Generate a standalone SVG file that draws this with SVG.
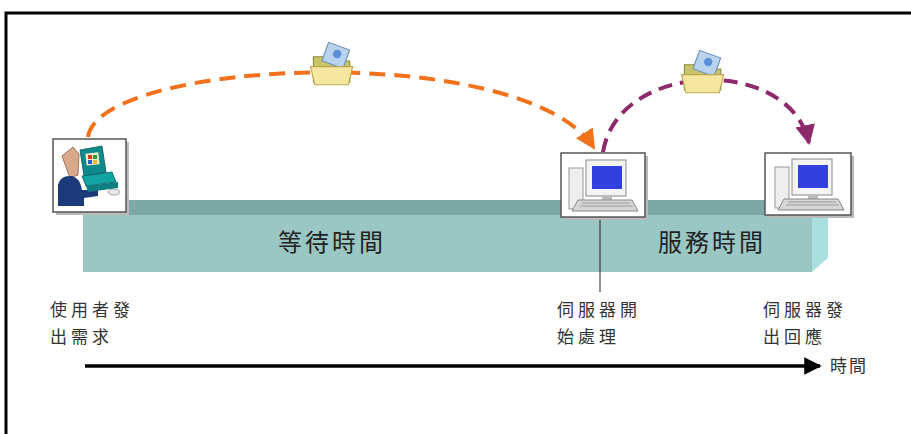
<svg xmlns="http://www.w3.org/2000/svg" width="911" height="434" viewBox="0 0 911 434">
  <style>
    .lbl { font-family: "Noto Sans CJK TC", "Noto Sans CJK SC", sans-serif; font-size: 17px; fill: #333; letter-spacing: 4px; }
    .bar { font-family: "Noto Sans CJK TC", "Noto Sans CJK SC", sans-serif; font-size: 24px; fill: #222; letter-spacing: 3px; }
    .iconbox { fill: #fff; stroke: #555; stroke-width: 1.5; }
    .shadow { fill: #bbb; }
  </style>
  <defs>
    <marker id="headOrange" viewBox="0 0 10 10" refX="9" refY="5" markerWidth="5" markerHeight="5" orient="auto" markerUnits="strokeWidth">
      <path d="M0,0 L10,5 L0,10 Z" fill="#F2711C"/>
    </marker>
    <marker id="headPurple" viewBox="0 0 10 10" refX="9" refY="5" markerWidth="5" markerHeight="5" orient="auto" markerUnits="strokeWidth">
      <path d="M0,0 L10,5 L0,10 Z" fill="#8E2A6B"/>
    </marker>
    <marker id="headBlack" viewBox="0 0 10 10" refX="9" refY="5" markerWidth="6" markerHeight="5" orient="auto" markerUnits="strokeWidth">
      <path d="M0,0 L10,5 L0,10 Z" fill="#000"/>
    </marker>
    <g id="folder">
      <path d="M-14,-8 L-6,-8 L-4,-5 L12,-5 L12,10 L-14,10 Z" fill="#C9C46A" stroke="#8C8A3A" stroke-width="0.8"/>
      <rect x="-6" y="-16" width="16" height="14" fill="#B9D3EE" stroke="#6F8FB8" stroke-width="0.8" transform="rotate(20 2 -9)"/>
      <circle cx="3" cy="-10" r="3" fill="#5B8FD9"/>
      <path d="M-16,-1 L14,-1 L11,12 L-13,12 Z" fill="#F6E7A0" stroke="#B9A650" stroke-width="0.8"/>
    </g>
    <g id="computer">
      <rect x="-31" y="-17" width="14" height="41" fill="#EEE" stroke="#999" stroke-width="1"/>
      <rect x="-14" y="-25" width="40" height="36" fill="#F4F4F4" stroke="#888" stroke-width="1"/>
      <rect x="-8" y="-19" width="30" height="23" fill="#3340E0"/>
      <rect x="2" y="11" width="10" height="4" fill="#bbb"/>
      <path d="M-22,15 L32,15 L38,26 L-28,26 Z" fill="#D6D6D6" stroke="#888" stroke-width="1"/>
      <path d="M-18,18 L30,18 M-20,21 L33,21" stroke="#999" stroke-width="1"/>
    </g>
  </defs>

  <!-- page frame -->
  <rect x="6" y="13" width="920" height="440" fill="#fff" stroke="#000" stroke-width="3"/>

  <!-- time bar (3D box) -->
  <g id="timebar">
    <path d="M83,215 L98,200 L828,200 L812,215 Z" fill="#7DA8A5"/>
    <path d="M812,215 L828,200 L828,258 L812,272 Z" fill="#A9E0DF"/>
    <rect x="83" y="215" width="729" height="57" fill="#9AC6C4"/>
    <text class="bar" x="332" y="251" text-anchor="middle">等待時間</text>
    <text class="bar" x="712" y="251" text-anchor="middle">服務時間</text>
  </g>

  <!-- server start marker line -->
  <line x1="600" y1="217" x2="600" y2="292" stroke="#222" stroke-width="1"/>

  <!-- client node -->
  <g id="client">
    <rect class="shadow" x="56" y="142" width="73" height="73"/>
    <rect class="iconbox" x="53" y="139" width="73" height="73"/>
    <!-- person -->
    <path d="M62,156 L73,147 L79,154 L78,175 L70,178 Z" fill="#D9A98C" stroke="#8A5A40" stroke-width="0.8"/>
    <path d="M58,206 L58,185 Q60,175 72,176 Q80,178 82,190 L98,190 L98,196 L84,198 L84,206 Z" fill="#1C3A7A"/>
    <!-- monitor -->
    <path d="M80,150 L102,146 L106,172 L84,176 Z" fill="#0E8A8C" stroke="#05585A" stroke-width="0.8"/>
    <rect x="86" y="153" width="13" height="12" fill="#F3E9C9" transform="rotate(-6 92 159)"/>
    <rect x="88" y="155" width="4" height="4" fill="#D23A2A"/>
    <rect x="93" y="155" width="4" height="4" fill="#2E9C3C"/>
    <rect x="88" y="160" width="4" height="4" fill="#2A5BC9"/>
    <rect x="93" y="160" width="4" height="4" fill="#E2C12A"/>
    <path d="M82,176 L112,172 L116,182 L86,186 Z" fill="#13A3A3" stroke="#05585A" stroke-width="0.8"/>
    <path d="M86,186 L118,182 L118,188 L88,192 Z" fill="#0D7E80"/>
    <ellipse cx="114" cy="192" rx="6" ry="3" fill="#E6E6E6" stroke="#777" stroke-width="0.6"/>
  </g>

  <!-- server node (start of processing) -->
  <g id="server-start">
    <rect class="shadow" x="564" y="156" width="84" height="64"/>
    <rect class="iconbox" x="561" y="153" width="84" height="64"/>
    <use href="#computer" x="600" y="185"/>
  </g>

  <!-- server node (response) -->
  <g id="server-reply">
    <rect class="shadow" x="768" y="156" width="86" height="62"/>
    <rect class="iconbox" x="765" y="153" width="86" height="62"/>
    <use href="#computer" x="806" y="184"/>
  </g>

  <!-- connectors -->
  <g id="connectors">
    <path d="M88,137 C100,58 525,40 594,148" fill="none" stroke="#F2711C" stroke-width="4" stroke-dasharray="16,9" marker-end="url(#headOrange)"/>
    <path d="M603,152 C618,60 790,55 809,143" fill="none" stroke="#8E2A6B" stroke-width="4" stroke-dasharray="14,8" marker-end="url(#headPurple)"/>
    <line x1="85" y1="366" x2="820" y2="366" stroke="#000" stroke-width="3.5" marker-end="url(#headBlack)"/>
  </g>

  <!-- data folders riding on the arcs -->
  <g id="request-folder"><use href="#folder" transform="translate(333 68) scale(1.4)"/></g>
  <g id="reply-folder"><use href="#folder" transform="translate(704 76) scale(1.4)"/></g>

  <!-- labels -->
  <g id="labels">
    <text class="lbl" x="50" y="316">使用者發</text>
    <text class="lbl" x="50" y="343">出需求</text>
    <text class="lbl" x="557" y="316">伺服器開</text>
    <text class="lbl" x="557" y="343">始處理</text>
    <text class="lbl" x="763" y="316">伺服器發</text>
    <text class="lbl" x="763" y="343">出回應</text>
    <text class="lbl" x="830" y="372" style="letter-spacing:2px">時間</text>
  </g>
</svg>
